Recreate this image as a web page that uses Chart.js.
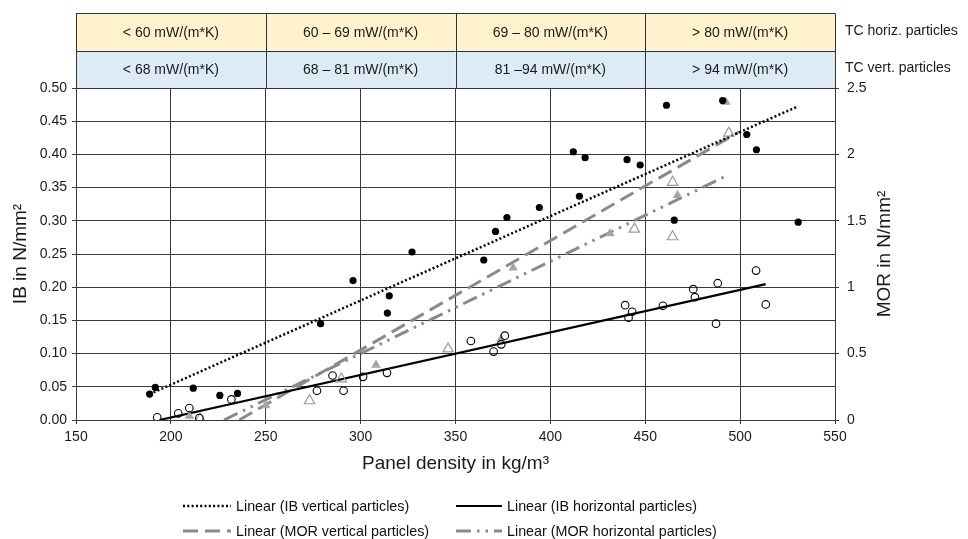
<!DOCTYPE html>
<html>
<head>
<meta charset="utf-8">
<script src="https://cdn.jsdelivr.net/npm/chart.js@4.4.1/dist/chart.umd.min.js"></script>
<style>
  html, body { margin: 0; padding: 0; background: #fff; }
  #wrap { position: relative; width: 968px; height: 539px; overflow: hidden; font-family: "Liberation Sans", Arial, sans-serif; }
  #c { position: absolute; left: 0; top: 0; }
  .leg { position: absolute; display: flex; align-items: center; font-size: 14.3px; color: #111; white-space: nowrap; }
  .leg svg { margin-right: 5px; }
</style>
</head>
<body>
<div id="wrap">
  <canvas id="c" width="968" height="539"></canvas>
  <div class="leg" style="left:183px; top:498px;"><svg width="48" height="6"><line x1="0" y1="3" x2="48" y2="3" stroke="#000" stroke-width="2.5" stroke-dasharray="2 2.3"/></svg>Linear (IB vertical particles)</div>
  <div class="leg" style="left:456px; top:498px;"><svg width="46" height="6"><line x1="0" y1="3" x2="46" y2="3" stroke="#000" stroke-width="2.2"/></svg>Linear (IB horizontal particles)</div>
  <div class="leg" style="left:183px; top:523px;"><svg width="48" height="6"><line x1="0" y1="3" x2="48" y2="3" stroke="#8a8a8a" stroke-width="3" stroke-dasharray="15 7"/></svg>Linear (MOR vertical particles)</div>
  <div class="leg" style="left:456px; top:523px;"><svg width="46" height="6"><line x1="0" y1="3" x2="46" y2="3" stroke="#8a8a8a" stroke-width="3" stroke-dasharray="15 6 2.5 6 2.5 6"/></svg>Linear (MOR horizontal particles)</div>
</div>
<script>
// ---- data ----
const ibVertX = [188.8, 191.8, 211.8, 225.8, 235.1, 278.9, 296.0, 314.1, 315.1, 327.1, 364.9, 371.1, 377.1, 394.2, 412.1, 415.3, 418.3, 440.4, 447.3, 461.2, 465.3, 490.8, 503.5, 508.6, 530.6];
const ibVertY = [0.039, 0.049, 0.048, 0.037, 0.040, 0.145, 0.210, 0.161, 0.187, 0.253, 0.241, 0.284, 0.305, 0.320, 0.404, 0.337, 0.395, 0.392, 0.384, 0.474, 0.301, 0.481, 0.430, 0.407, 0.298];

const ibHorX = [192.8, 203.9, 209.7, 215.0, 231.9, 277.0, 285.2, 291.0, 301.3, 313.9, 358.1, 370.1, 374.1, 376.0, 439.4, 441.2, 443.1, 459.3, 475.3, 476.2, 487.3, 488.2, 508.4, 513.5];
const ibHorY = [0.004, 0.010, 0.018, 0.003, 0.031, 0.044, 0.067, 0.044, 0.065, 0.071, 0.119, 0.103, 0.114, 0.127, 0.173, 0.154, 0.163, 0.172, 0.197, 0.185, 0.145, 0.206, 0.225, 0.174];

const morVertX = [215.4, 273.1, 289.8, 346.1, 444.3, 464.4, 464.4, 494.0, 501.3];
const morVertY = [0.01, 0.145, 0.31, 0.535, 1.437, 1.38, 1.79, 2.16, 2.52];

const morHorX = [209.8, 250.0, 308.1, 374.0, 380.4, 431.4, 467.0, 492.5];
const morHorY = [0.03, 0.11, 0.414, 0.61, 1.146, 1.405, 1.693, 2.395];

// linear trendline end points (as drawn in the reference)
const trendIbVertX = [188.8, 530.6], trendIbVertY = [0.039, 0.4725];
const trendIbHorX = [194.0, 513.5],  trendIbHorY = [0.0, 0.2046];
const trendMorVertX = [236.0, 499.4], trendMorVertY = [0.0, 2.169];
const trendMorHorX = [228.0, 493.4],  trendMorHorY = [0.0, 1.843];

// top table
const tcBounds = [150, 250, 350, 450, 550];
const tcHoriz = ['< 60 mW/(m*K)', '60 \u2013 69 mW/(m*K)', '69 \u2013 80 mW/(m*K)', '> 80 mW/(m*K)'];
const tcVert  = ['< 68 mW/(m*K)', '68 \u2013 81 mW/(m*K)', '81 \u201394 mW/(m*K)', '> 94 mW/(m*K)'];
const tcRowLabels = ['TC horiz. particles', 'TC vert. particles'];

const xTitle = 'Panel density in kg/m\u00b3';
const yTitle = 'IB in N/mm\u00b2';
const y2Title = 'MOR in N/mm\u00b2';

const pts = (xs, ys) => xs.map((x, i) => ({x: x, y: ys[i]}));
const FONT = '"Liberation Sans", Arial, sans-serif';
Chart.defaults.font.family = FONT;
Chart.defaults.color = '#1a1a1a';
const GRID = '#3a3a3a';
const GRAY = '#8a8a8a';

const tablePlugin = {
  id: 'tcTable',
  afterDraw(chart) {
    const ctx = chart.ctx, xs = chart.scales.x, area = chart.chartArea;
    const top = 13.3, mid = 50.5, bot = area.top;
    ctx.save();
    for (let i = 0; i < tcBounds.length - 1; i++) {
      const x0 = xs.getPixelForValue(tcBounds[i]), x1 = xs.getPixelForValue(tcBounds[i + 1]);
      ctx.fillStyle = '#FFF2CC'; ctx.fillRect(x0, top, x1 - x0, mid - top);
      ctx.fillStyle = '#DDEBF7'; ctx.fillRect(x0, mid, x1 - x0, bot - mid);
    }
    ctx.strokeStyle = '#333'; ctx.lineWidth = 1;
    const xa = xs.getPixelForValue(tcBounds[0]), xb = xs.getPixelForValue(tcBounds[tcBounds.length - 1]);
    ctx.beginPath();
    [top, mid, bot].forEach(y => { ctx.moveTo(xa, Math.round(y) + 0.5); ctx.lineTo(xb, Math.round(y) + 0.5); });
    tcBounds.forEach(b => { const x = Math.round(xs.getPixelForValue(b)) + 0.5; ctx.moveTo(x, top); ctx.lineTo(x, bot); });
    ctx.stroke();
    ctx.fillStyle = '#1a1a1a'; ctx.font = '14px ' + FONT; ctx.textAlign = 'center'; ctx.textBaseline = 'middle';
    for (let i = 0; i < tcBounds.length - 1; i++) {
      const xc = (xs.getPixelForValue(tcBounds[i]) + xs.getPixelForValue(tcBounds[i + 1])) / 2;
      ctx.fillText(tcHoriz[i], xc, (top + mid) / 2 + 1);
      ctx.fillText(tcVert[i], xc, (mid + bot) / 2 + 1);
    }
    ctx.textAlign = 'left';
    ctx.fillText(tcRowLabels[0], area.right + 10, (top + mid) / 2 - 1);
    ctx.fillText(tcRowLabels[1], area.right + 10, (mid + bot) / 2 - 1);
    // right axis title, reading bottom to top
    ctx.translate(885, (area.top + area.bottom) / 2);
    ctx.rotate(-Math.PI / 2);
    ctx.font = '19px ' + FONT; ctx.textAlign = 'center';
    ctx.fillText(y2Title, 0, 0);
    ctx.restore();
  }
};

new Chart(document.getElementById('c'), {
  type: 'scatter',
  data: {
    datasets: [
      { label: 'Linear (IB vertical particles)', data: pts(trendIbVertX, trendIbVertY), yAxisID: 'y', showLine: true, borderColor: '#000', borderWidth: 2.5, borderDash: [2, 2.3], pointRadius: 0, order: 5 },
      { label: 'Linear (IB horizontal particles)', data: pts(trendIbHorX, trendIbHorY), yAxisID: 'y', showLine: true, borderColor: '#000', borderWidth: 2.2, pointRadius: 0, order: 5 },
      { label: 'Linear (MOR vertical particles)', data: pts(trendMorVertX, trendMorVertY), yAxisID: 'y2', showLine: true, borderColor: GRAY, borderWidth: 3, borderDash: [15, 7], pointRadius: 0, order: 5 },
      { label: 'Linear (MOR horizontal particles)', data: pts(trendMorHorX, trendMorHorY), yAxisID: 'y2', showLine: true, borderColor: GRAY, borderWidth: 3, borderDash: [15, 6, 2.5, 6, 2.5, 6], pointRadius: 0, order: 5 },
      { label: 'IB vertical particles', data: pts(ibVertX, ibVertY), yAxisID: 'y', pointStyle: 'circle', pointRadius: 3.6, backgroundColor: '#000', borderColor: '#000', borderWidth: 0, order: 1 },
      { label: 'IB horizontal particles', data: pts(ibHorX, ibHorY), yAxisID: 'y', pointStyle: 'circle', pointRadius: 3.8, backgroundColor: 'rgba(255,255,255,0)', borderColor: '#000', borderWidth: 1.1, order: 1 },
      { label: 'MOR vertical particles', data: pts(morVertX, morVertY), yAxisID: 'y2', pointStyle: 'triangle', pointRadius: 6, backgroundColor: 'rgba(255,255,255,0)', borderColor: '#9a9a9a', borderWidth: 1.2, order: 1 },
      { label: 'MOR horizontal particles', data: pts(morHorX, morHorY), yAxisID: 'y2', pointStyle: 'triangle', pointRadius: 5.5, backgroundColor: '#a6a6a6', borderColor: '#a6a6a6', borderWidth: 0, order: 1 }
    ]
  },
  options: {
    responsive: false,
    animation: false,
    events: [],
    layout: { padding: { top: 88, bottom: 59, left: 0, right: 0 } },
    plugins: { legend: { display: false }, tooltip: { enabled: false } },
    scales: {
      x: {
        type: 'linear', min: 150, max: 550,
        ticks: { stepSize: 50, font: { size: 14 }, padding: 5, color: '#1a1a1a' },
        grid: { color: GRID, lineWidth: 1, tickLength: 4 },
        border: { color: GRID },
        title: { display: true, text: xTitle, font: { size: 19 }, color: '#1a1a1a', padding: { top: 0, bottom: 5 } },
        afterFit(s) { s.height = 60; }
      },
      y: {
        type: 'linear', position: 'left', min: 0, max: 0.5,
        ticks: { stepSize: 0.05, font: { size: 14 }, padding: 5, color: '#1a1a1a', callback: v => v.toFixed(2) },
        grid: { color: GRID, lineWidth: 1, tickLength: 4 },
        border: { color: GRID },
        title: { display: true, text: yTitle, font: { size: 19 }, color: '#1a1a1a', padding: { top: 9, bottom: 0 } },
        afterFit(s) { s.width = 76; }
      },
      y2: {
        type: 'linear', position: 'right', min: 0, max: 2.5,
        ticks: { stepSize: 0.5, font: { size: 14 }, padding: 8, color: '#1a1a1a', callback: v => String(Math.round(v * 10) / 10) },
        grid: { drawOnChartArea: false, color: GRID, tickLength: 4 },
        border: { color: GRID },
        afterFit(s) { s.width = 133; }
      }
    }
  },
  plugins: [tablePlugin]
});
</script>
</body>
</html>
